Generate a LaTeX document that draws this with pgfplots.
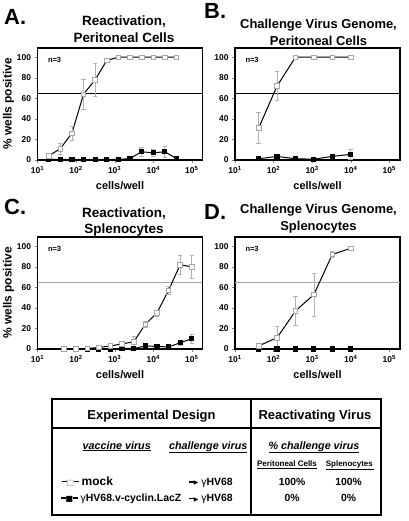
\documentclass[border=0pt]{standalone}
\usepackage{pgfplots}
\pgfplotsset{compat=1.18}
\usepackage{fontspec}
\setmainfont{Liberation Sans}
\newfontfamily\dejavu{DejaVu Sans}
\newcommand{\fs}[1]{\fontsize{#1}{#1}\selectfont}
\newcommand{\garrow}{\rule[2.4bp]{6bp}{1.4bp}\kern-1.2bp\raisebox{0.6bp}{\dejavu\fs{6}▶}}
\newcommand{\openglyph}{\rule[3bp]{5bp}{1bp}\kern-0.6bp{\dejavu\fs{8}\textcolor{gray}{□}}\kern-0.6bp\rule[3bp]{5bp}{1bp}}
\newcommand{\fillglyph}{\rule[3bp]{5bp}{1.4bp}\kern-0.6bp{\dejavu\fs{8}■}\kern-0.6bp\rule[3bp]{5bp}{1.4bp}}

\tikzset{nlabel/.style={anchor=north west, font=\bfseries\fs{7.5}, xshift=7bp, yshift=-6bp}}

\pgfplotsset{
  mypanel/.style={
    scale only axis, width=165bp, height=112bp,
    xmin=10, xmax=190000, ymin=0, ymax=109,
    axis line style={line width=1.1bp},
    tick pos=left, tick align=outside, major tick length=3bp,
    xminorticks=false,
    xtick={10,100,1000,10000,100000},
    xticklabels={10\textsuperscript{1},10\textsuperscript{2},10\textsuperscript{3},10\textsuperscript{4},10\textsuperscript{5}},
    ytick={0,20,40,60,80,100},
    yticklabel={\pgfmathprintnumber[assume math mode=true]{\tick}},
    ticklabel style={font=\bfseries\fs{8.5}},
    xlabel={cells/well},
    xlabel style={font=\bfseries\fs{11}, at={(axis description cs:0.5,0)}, anchor=base, yshift=-29.5bp},
    ylabel style={font=\bfseries\fs{12}},
    ylabel shift=-4bp,
    clip=false,
  },
  myref/.style={black, line width=1bp, forget plot},
  myfilled/.style={black, line width=1bp, mark=square*, mark size=2.1bp,
    mark options={fill=black, solid}},
  myopen/.style={black, line width=1bp, mark=square*, mark size=2.3bp,
    mark options={fill=white, draw=gray!70, solid, line width=0.7bp}},
  myerr/.style={error bars/.cd, y dir=both, y explicit,
    error bar style={gray!60, line width=0.6bp},
    error mark options={rotate=90, gray!60, mark size=2.2bp, line width=0.6bp}},
}

\begin{document}
\begin{tikzpicture}
\path[use as bounding box] (0,0) rectangle (409bp,-521bp);

% ---------- Panel letters and titles ----------
\node[anchor=base west, inner sep=0, font=\bfseries\fs{22}] at (4bp,-24bp) {A.};
\node[anchor=base west, inner sep=0, font=\bfseries\fs{22}] at (204bp,-18bp) {B.};
\node[anchor=base west, inner sep=0, font=\bfseries\fs{22}] at (4bp,-214bp) {C.};
\node[anchor=base west, inner sep=0, font=\bfseries\fs{22}] at (204bp,-219bp) {D.};

\node[anchor=base, inner sep=0, font=\bfseries\fs{13.5}] at (124bp,-25.5bp) {Reactivation,};
\node[anchor=base, inner sep=0, font=\bfseries\fs{13.5}] at (124bp,-42bp) {Peritoneal Cells};
\node[anchor=base, inner sep=0, font=\bfseries\fs{13}] at (318.5bp,-28.5bp) {Challenge Virus Genome,};
\node[anchor=base, inner sep=0, font=\bfseries\fs{13}] at (318.5bp,-45.2bp) {Peritoneal Cells};
\node[anchor=base, inner sep=0, font=\bfseries\fs{13.5}] at (124bp,-217bp) {Reactivation,};
\node[anchor=base, inner sep=0, font=\bfseries\fs{13.5}] at (124bp,-233bp) {Splenocytes};
\node[anchor=base, inner sep=0, font=\bfseries\fs{13}] at (318.5bp,-213.7bp) {Challenge Virus Genome,};
\node[anchor=base, inner sep=0, font=\bfseries\fs{13}] at (318.5bp,-230.4bp) {Splenocytes};

% ---------- Panel A ----------
\begin{semilogxaxis}[mypanel, at={(37.5bp,-160bp)}, anchor=south west, ylabel={\% wells positive}]
\addplot[myref] coordinates {(10,65) (190000,65)};
\addplot[myfilled, myerr] table[x=x, y=y, y error=e] {
x y e
19.5 0.5 0
39 0.5 0
78 0.5 0
156 0.5 0
312 0.5 0
625 0.5 0
1250 0.5 0
2500 1.5 0.5
5000 8 4
10000 7 3
20000 8 5
40000 1.5 0.5
};
\addplot[myopen, myerr] table[x=x, y=y, y error=e] {
x y e
19.5 4 1
39 11 5
78 26 7
156 64 15
312 78 16
625 97 1
1250 100 0
2500 100 0
5000 100 0
10000 100 0
20000 100 0
40000 100 0
};
\node[nlabel] at (rel axis cs:0,1) {n=3};
\end{semilogxaxis}

% ---------- Panel B ----------
\begin{semilogxaxis}[mypanel, at={(235bp,-160bp)}, anchor=south west]
\addplot[myref] coordinates {(10,65) (190000,65)};
\addplot[myfilled, myerr] table[x=x, y=y, y error=e] {
x y e
41 1.2 0
123 3.5 1
370 1.2 0
1111 0.8 0
3333 3.5 1
10000 5.5 5
};
\addplot[myopen, myerr] table[x=x, y=y, y error=e] {
x y e
41 31 15
123 72 14
370 100 0
1111 100 0
3333 100 0
10000 100 0
};
\node[nlabel] at (rel axis cs:0,1) {n=3};
\end{semilogxaxis}

% ---------- Panel C ----------
\begin{semilogxaxis}[mypanel, at={(37.5bp,-349bp)}, anchor=south west, ylabel={\% wells positive}]
\addplot[myref, gray!70] coordinates {(10,65) (190000,65)};
\addplot[myfilled, myerr] table[x=x, y=y, y error=e] {
x y e
48.8 0 0
97.7 0 0
195 0 0
390 0 0
781 0 0
1562 0.5 0
3125 0.5 0
6250 3 1
12500 2.5 1
25000 2 1
50000 6 2
100000 10 4
};
\addplot[myopen, myerr] table[x=x, y=y, y error=e] {
x y e
48.8 0 0
97.7 0 0
195 0.5 0
390 1.5 1
781 3 1
1562 5 2
3125 7 5
6250 24 3
12500 35 3
25000 57 4
50000 82 9
100000 80 11
};
\node[nlabel] at (rel axis cs:0,1) {n=3};
\end{semilogxaxis}

% ---------- Panel D ----------
\begin{semilogxaxis}[mypanel, at={(235bp,-349bp)}, anchor=south west]
\addplot[myref, gray!70] coordinates {(10,65) (190000,65)};
\addplot[myfilled, myerr] table[x=x, y=y, y error=e] {
x y e
41 0 0
123 0 0
370 0 0
1111 0 0
3333 0 0
10000 0 0
};
\addplot[myopen, myerr] table[x=x, y=y, y error=e] {
x y e
41 3 1
123 11 11
370 37 14
1111 53 21
3333 92 3
10000 98 1
};
\node[nlabel] at (rel axis cs:0,1) {n=3};
\end{semilogxaxis}

% ---------- Table ----------
\draw[line width=1.2bp] (52bp,-399bp) rectangle (381bp,-515bp);
\draw[line width=1.2bp] (251bp,-399bp) -- (251bp,-515bp);
\draw[line width=1.2bp] (52bp,-428bp) -- (381bp,-428bp);

\node[anchor=base, inner sep=0, font=\bfseries\fs{13}] at (151.5bp,-419.3bp) {Experimental Design};
\node[anchor=base, inner sep=0, font=\bfseries\fs{13}] at (315bp,-419.3bp) {Reactivating Virus};

\node[anchor=base, inner sep=0, font=\bfseries\itshape\fs{10.8}] at (116.7bp,-449bp) {\underline{vaccine virus}};
\node[anchor=base, inner sep=0, font=\bfseries\itshape\fs{10.8}] at (208.3bp,-449bp) {\underline{challenge virus}};
\node[anchor=base, inner sep=0, font=\bfseries\itshape\fs{10.8}] at (314bp,-449bp) {\underline{\% challenge virus}};
\node[anchor=base, inner sep=0, font=\bfseries\fs{8}] at (287bp,-466.5bp) {\underline{Peritoneal Cells}};
\node[anchor=base, inner sep=0, font=\bfseries\fs{8}] at (350bp,-466.5bp) {\underline{Splenocytes\,}};

\node[anchor=base west, inner sep=0] at (62bp,-485bp) {\openglyph};
\node[anchor=base west, inner sep=0, font=\bfseries\fs{12}] at (81.5bp,-485bp) {mock};
\node[anchor=base east, inner sep=0, font=\bfseries\fs{10.5}] at (233bp,-485bp) {\garrow\ \textmd{γ}HV68};
\node[anchor=base, inner sep=0, font=\bfseries\fs{10.4}] at (292bp,-485bp) {100\%};
\node[anchor=base, inner sep=0, font=\bfseries\fs{10.4}] at (348.5bp,-485bp) {100\%};

\node[anchor=base west, inner sep=0] at (61bp,-501.7bp) {\fillglyph};
\node[anchor=base west, inner sep=0, font=\bfseries\fs{10.5}] at (80.5bp,-501.7bp) {\textmd{γ}HV68.v-cyclin.LacZ};
\node[anchor=base east, inner sep=0, font=\bfseries\fs{10.5}] at (233bp,-501.7bp) {\garrow\ \textmd{γ}HV68};
\node[anchor=base, inner sep=0, font=\bfseries\fs{10.4}] at (292bp,-501.7bp) {0\%};
\node[anchor=base, inner sep=0, font=\bfseries\fs{10.4}] at (348.5bp,-501.7bp) {0\%};
\end{tikzpicture}
\end{document}
